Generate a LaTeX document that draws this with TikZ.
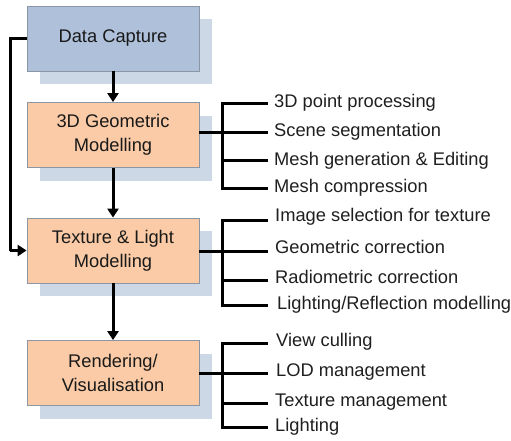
\documentclass[tikz,border=0pt]{standalone}
\usepackage{fontspec}
\setmainfont{Liberation Sans}
\usetikzlibrary{arrows.meta,shadows}
\definecolor{bluebox}{HTML}{AFC1DA}
\definecolor{orangebox}{HTML}{FACBA6}
\definecolor{shadowc}{HTML}{CDD8E7}
\definecolor{boxline}{HTML}{8A96A3}
\tikzset{
  stagebox/.style={draw=boxline, line width=0.8pt, minimum width=172pt, minimum height=65pt,
    align=center, font=\fontsize{18.3}{24}\selectfont, text=black!90,
    general shadow={shadow xshift=13pt, shadow yshift=-13pt, fill=shadowc, draw=none}},
  item/.style={anchor=west, inner sep=0pt, font=\fontsize{18.3}{21}\selectfont, text=black!88},
  conn/.style={line width=3pt, black},
  arr/.style={conn, -{Triangle[length=9pt,width=11pt]}}
}
\begin{document}
\begin{tikzpicture}[x=1pt,y=-1pt]
\useasboundingbox (0,0) rectangle (511,440);
% stages
\node[stagebox, fill=bluebox] (dc) at (113,38.5) {Data Capture};
\node[stagebox, fill=orangebox] (gm) at (113,135) {3D Geometric\\Modelling};
\node[stagebox, fill=orangebox] (tl) at (113,250.5) {Texture \& Light\\Modelling};
\node[stagebox, fill=orangebox] (rv) at (113,373) {Rendering/\\Visualisation};
% vertical arrows
\draw[arr] (dc) -- (gm);
\draw[arr] (gm) -- (tl);
\draw[arr] (tl) -- (rv);
% side loop
\coordinate (l1) at (10,38.5);
\coordinate (l2) at (10,250.5);
\draw[conn] (dc.west) -- (l1) -- (l2);
\draw[arr] (l2) -- (tl.west);
% items: 3D geometric modelling
\coordinate (gj) at (222,0);
\coordinate (gb1) at (268,103);
\coordinate (gb2) at (268,132.5);
\coordinate (gb3) at (268,160.5);
\coordinate (gb4) at (268,188);
\node[item] (g1) at (274,103) {3D point processing};
\node[item] (g2) at (274,132) {Scene segmentation};
\node[item] (g3) at (274,160.5) {Mesh generation \& Editing};
\node[item] (g4) at (274,187.5) {Mesh compression};
\draw[conn] (gm.east |- gb2) -- (gj |- gb2);
\draw[conn] (gb1) -- (gj |- gb1) -- (gj |- gb4) -- (gb4);
\draw[conn] (gj |- gb2) -- (gb2);
\draw[conn] (gj |- gb3) -- (gb3);
% items: texture & light
\coordinate (tb1) at (268,220);
\coordinate (tb2) at (268,251);
\coordinate (tb3) at (268,280);
\coordinate (tb4) at (268,305);
\node[item] (t1) at (275,217) {Image selection for texture};
\node[item] (t2) at (275,246.5) {Geometric correction};
\node[item] (t3) at (275,277) {Radiometric correction};
\node[item] (t4) at (277,305) {Lighting/Reflection modelling};
\draw[conn] (tl.east |- tb2) -- (gj |- tb2);
\draw[conn] (tb1) -- (gj |- tb1) -- (gj |- tb4) -- (tb4);
\draw[conn] (gj |- tb2) -- (tb2);
\draw[conn] (gj |- tb3) -- (tb3);
% items: rendering
\coordinate (rb1) at (268,343);
\coordinate (rb2) at (268,373);
\coordinate (rb3) at (268,403);
\coordinate (rb4) at (268,427);
\node[item] (r1) at (276,342) {View culling};
\node[item] (r2) at (276,372) {LOD management};
\node[item] (r3) at (275,402) {Texture management};
\node[item] (r4) at (275,427) {Lighting};
\draw[conn] (rv.east |- rb2) -- (gj |- rb2);
\draw[conn] (rb1) -- (gj |- rb1) -- (gj |- rb4) -- (rb4);
\draw[conn] (gj |- rb2) -- (rb2);
\draw[conn] (gj |- rb3) -- (rb3);
\end{tikzpicture}
\end{document}
